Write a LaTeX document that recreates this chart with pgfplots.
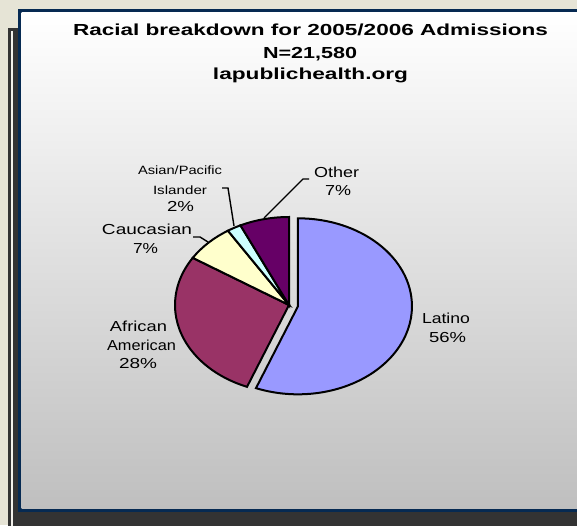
\documentclass[border=0pt]{standalone}
\usepackage{pgfplots}
\pgfplotsset{compat=1.18}
\usepackage{fontspec}
\setmainfont{Liberation Sans}

\definecolor{latino}{HTML}{9999FF}
\definecolor{afam}{HTML}{993366}
\definecolor{cauc}{HTML}{FFFFCC}
\definecolor{asian}{HTML}{CCFFFF}
\definecolor{other}{HTML}{660066}
\definecolor{navy}{HTML}{062A52}
\definecolor{panel}{HTML}{333333}
\definecolor{bgtex}{HTML}{E6E4D6}
\definecolor{grbot}{HTML}{BFBFBF}

% text line stretched to a measured width (px), height kept
\newcommand{\wide}[2]{\resizebox{#1pt}{\height}{#2}}

% pie slice: start (%), value (%), colour, explode (axis units)
\newcommand{\slice}[4]{%
  \filldraw[fill=#3, draw=black, line width=2pt]
    ({#4*cos(90-3.6*(#1+#2/2))+cos(90-3.6*#1)},{#4*sin(90-3.6*(#1+#2/2))+sin(90-3.6*#1)})
    arc[start angle={90-3.6*#1}, end angle={90-3.6*(#1+#2)}, x radius=114pt, y radius=88pt]
    -- ({#4*cos(90-3.6*(#1+#2/2))},{#4*sin(90-3.6*(#1+#2/2))}) -- cycle;}

\begin{document}
\begin{tikzpicture}
\useasboundingbox (0,0) rectangle (577pt,525pt);
\clip (0,0) rectangle (577pt,525pt);

% background, panel, frame (pixel coordinates, y down)
\begin{scope}[x=1pt, y=-1pt, shift={(0,525pt)}]
  \fill[bgtex] (0,0) rectangle (577,525);
  \fill[panel] (8,28) rectangle (600,530);
  \fill[bgtex!50!white] (11.3,31) rectangle (12.6,530);
  \fill[navy] (18,9) rectangle (600,512);
  \shade[top color=white, bottom color=grbot] (21.5,12.5) rectangle (600,508.5);
\end{scope}

\begin{axis}[
  at={(289pt,220pt)}, anchor=center,
  x=114pt, y=88pt,
  xmin=-1.3, xmax=1.3, ymin=-1.3, ymax=1.3,
  hide axis, clip=false]
  % start, share (%)
  \slice{0}{56}{latino}{0.08}
  \slice{56}{28}{afam}{0}
  \slice{84}{7}{cauc}{0}
  \slice{91}{2}{asian}{0}
  \slice{93}{7}{other}{0}
\end{axis}

% titles, labels and leader lines
\begin{scope}[x=1pt, y=-1pt, shift={(0,525pt)}]
  \begin{scope}[every node/.style={anchor=base, inner sep=0pt, font=\fontsize{16}{18}\selectfont\bfseries}]
    \node at (310.5,35.7) {\wide{475}{Racial breakdown for 2005/2006 Admissions}};
    \node at (310,58.3) {\wide{94}{N=21,580}};
    \node at (310.5,80) {\wide{195}{lapublichealth.org}};
  \end{scope}
  \begin{scope}[every node/.style={anchor=base, inner sep=0pt, font=\fontsize{14.5}{16}\selectfont}]
    \node at (446,323.3) {\wide{48}{Latino}};
    \node at (447.5,342.7) {\wide{37}{56\%}};
    \node at (138.5,331.7) {\wide{57}{African}};
    \node at (141.5,350) {\wide{69}{American}};
    \node at (138,368.3) {\wide{38}{28\%}};
    \node at (147,235) {\wide{90}{Caucasian}};
    \node at (145.5,253.3) {\wide{25}{7\%}};
    \node at (336.5,177.3) {\wide{45}{Other}};
    \node at (338,195.7) {\wide{26}{7\%}};
    \node at (180.5,211.7) {\wide{27}{2\%}};
  \end{scope}
  \begin{scope}[every node/.style={anchor=base, inner sep=0pt, font=\fontsize{12}{13}\selectfont}]
    \node at (180,175) {\wide{84}{Asian/Pacific}};
    \node at (180,195) {\wide{54}{Islander}};
  \end{scope}
  \begin{scope}[line width=1.4pt]
    \draw (309,179) -- (303,179) -- (264,218);
    \draw (222,188) -- (228,188) -- (234,226);
    \draw (193,237) -- (200,237) -- (208,242);
  \end{scope}
\end{scope}
\end{tikzpicture}
\end{document}
